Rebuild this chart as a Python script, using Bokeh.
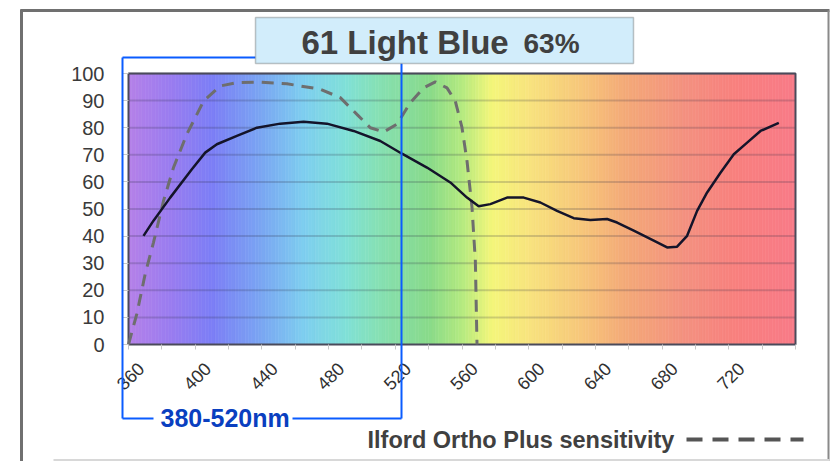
import math
from bokeh.plotting import figure
from bokeh.models import (Range1d, LinearAxis, FixedTicker, Label, Arrow,
                          BoxAnnotation, ColumnDataSource)
from bokeh.embed import file_html
from bokeh.resources import INLINE

# ---------------- data ----------------
wl_filter = [369, 375, 385, 398, 406, 413, 425, 437, 451, 465, 479, 495, 511,
             524, 539, 553, 563, 570, 577, 587, 597, 607, 617, 627, 637, 647,
             653, 663, 675, 683, 689, 695, 701, 707, 715, 723, 731, 739, 750]
tr_filter = [40.1, 45.7, 54.2, 64.7, 70.8, 73.9, 77.0, 80.0, 81.5, 82.2, 81.5,
             78.8, 75.1, 70.4, 65.3, 59.8, 54.2, 51.0, 51.8, 54.2, 54.2, 52.4,
             49.3, 46.6, 45.9, 46.3, 45.0, 42.0, 38.3, 35.8, 36.1, 40.1, 49.3,
             56.1, 63.4, 70.2, 74.5, 78.8, 81.8]

wl_film = [360, 365, 370, 375, 381, 387, 395, 405, 415, 425, 439, 455, 475,
           487, 497, 505, 513, 521, 529, 537, 544, 551, 556, 560, 563, 566,
           568, 569]
se_film = [0.0, 11.3, 26.0, 37.7, 53.0, 65.3, 77.6, 89.8, 95.4, 96.6, 96.8,
           96.2, 94.2, 91.1, 84.9, 80.0, 78.4, 81.3, 89.2, 94.7, 96.9, 94.7,
           89.8, 80.0, 67.7, 50.6, 30.9, 0.0]

x_tick_labels = [360, 400, 440, 480, 520, 560, 600, 640, 680, 720]
x_minor_ticks = [360, 380, 400, 420, 440, 460, 480, 500, 520, 540, 560, 580,
                 600, 620, 640, 660, 680, 700, 720, 740, 760]
y_ticks = [0, 10, 20, 30, 40, 50, 60, 70, 80, 90, 100]

title_main = "61 Light Blue"
title_pct = "63%"
band_label = "380-520nm"
legend_label = "Ilford Ortho Plus sensitivity"

# background spectrum colour stops (wavelength, colour)
spec_wl = [360, 385, 410, 440, 465, 490, 510, 540, 560, 578, 600, 630, 660, 695, 725, 760]
spec_col = ["#b580e8", "#9a7cf0", "#7c7ef6", "#7aa6f2", "#7ecef0", "#80e0d8",
            "#86e0b4", "#88da8a", "#b4ea80", "#f4f67a", "#f8e47e", "#f7c87a",
            "#f4a878", "#f49080", "#f8807e", "#f87a88"]

# ---------------- layout ----------------
W, H = 835, 461
X0, X1 = 360, 760
FL, FT, FW, FH = 128, 73, 667, 271      # plot area position on page (px)
KX = FW / (X1 - X0)
KY = FH / 100.0


def X(px):
    return X0 + (px - FL) / KX


def Y(py):
    return (FT + FH - py) / KY


p = figure(width=W, height=H, x_range=Range1d(X(0), X(W)), y_range=Range1d(Y(H), Y(0)),
           output_backend="svg", toolbar_location=None, title=None,
           min_border=0, border_fill_color="white", background_fill_color="white")
p.outline_line_color = None
p.xgrid.visible = False
p.ygrid.visible = False

# spectrum background
def hex2rgb(h):
    return tuple(int(h[i:i + 2], 16) for i in (1, 3, 5))


lefts, rights, cols = [], [], []
step = 2
w = X0
while w < X1:
    c = w + step / 2
    for i in range(len(spec_wl) - 1):
        if spec_wl[i] <= c <= spec_wl[i + 1]:
            t = (c - spec_wl[i]) / (spec_wl[i + 1] - spec_wl[i])
            a, b = hex2rgb(spec_col[i]), hex2rgb(spec_col[i + 1])
            rgb = tuple(round(a[k] + (b[k] - a[k]) * t) for k in range(3))
            cols.append("#%02x%02x%02x" % rgb)
            break
    lefts.append(w)
    rights.append(min(w + step, X1))
    w += step
src_bg = ColumnDataSource(dict(left=lefts, right=rights, color=cols))
p.quad(left="left", right="right", bottom=0, top=100, source=src_bg,
       fill_color="color", line_color="color", line_width=0.6)

# horizontal grid lines
p.segment(x0=X0, x1=X1, y0=y_ticks[1:], y1=y_ticks[1:], line_color="#2a2a40",
          line_alpha=0.2, line_width=2)

# plot-area border
p.quad(left=X0, right=X1, bottom=0, top=100, fill_color=None,
       line_color="#4a4a5a", line_width=2)

# curves
p.line(wl_film, se_film, line_color="#6e6e6e", line_width=3, line_dash="12 8")
p.line(wl_filter, tr_filter, line_color="#14142a", line_width=2.5)

# y axis (fixed at the left edge of the plot area)
p.yaxis.fixed_location = X0
p.yaxis.bounds = (0, 100)
p.yaxis.ticker = FixedTicker(ticks=y_ticks)
p.yaxis.axis_line_color = None
p.yaxis.major_tick_out = 6
p.yaxis.major_tick_in = 0
p.yaxis.major_tick_line_color = "#c8c8c8"
p.yaxis.minor_tick_line_color = None
p.yaxis.major_label_standoff = 18
p.yaxis.major_label_text_font = "Liberation Sans"
p.yaxis.major_label_text_font_size = "20px"
p.yaxis.major_label_text_color = "#3a3a3a"

# x axis: tick marks only
p.xaxis.fixed_location = 0
p.xaxis.bounds = (X0, X1)
p.xaxis.ticker = FixedTicker(ticks=x_minor_ticks)
p.xaxis.axis_line_color = None
p.xaxis.major_tick_out = 5
p.xaxis.major_tick_in = 0
p.xaxis.major_tick_line_color = "#c8c8c8"
p.xaxis.minor_tick_line_color = None
p.xaxis.major_label_text_font_size = "1px"
p.xaxis.major_label_text_alpha = 0

# x axis labels (offset like the original chart)
shift = 7.5
p.extra_x_ranges = {"lab": Range1d(X(0) - shift, X(W) - shift)}
lab_axis = LinearAxis(x_range_name="lab", fixed_location=0,
                      ticker=FixedTicker(ticks=x_tick_labels),
                      axis_line_color=None, major_tick_line_color=None,
                      minor_tick_line_color=None, major_tick_out=0, major_tick_in=0,
                      major_label_orientation=math.pi / 4, major_label_standoff=21,
                      major_label_text_font="Liberation Sans",
                      major_label_text_font_size="18px",
                      major_label_text_color="#303030")
p.add_layout(lab_axis, "below")


def seg(x0, y0, x1, y1, color, width, dash="solid"):
    p.add_layout(Arrow(x_start=X(x0), y_start=Y(y0), x_end=X(x1), y_end=Y(y1),
                       start=None, end=None, line_color=color, line_width=width,
                       line_dash=dash))


def text(px, py_base, s, size, color):
    # py_base: wanted baseline on the page; labels render ~0.31 em lower
    p.add_layout(Label(x=X(px), y=Y(py_base - 0.31 * size), text=s,
                       text_font="Liberation Sans", text_font_style="bold",
                       text_font_size="%gpx" % size, text_color=color,
                       text_baseline="alphabetic", text_align="left"))


# outer border
seg(21, 9, 21, 461, "#707070", 3)
seg(20, 10, 829, 10, "#707070", 3)
seg(828, 10, 828, 461, "#8a8a8a", 2)
seg(53, 459.5, 829, 459.5, "#d8d8d8", 2)

# blue bracket
BLUE = "#0a5cff"
seg(122, 57, 255, 57, BLUE, 2)
seg(122, 57, 122, 418, BLUE, 2)
seg(122, 418, 153, 418, BLUE, 2)
seg(292, 418, 401, 418, BLUE, 2)
seg(401, 63, 401, 418, BLUE, 2)

# title box
p.add_layout(BoxAnnotation(left=X(255), right=X(633), top=Y(17), bottom=Y(63),
                           fill_color="#d2edfb", fill_alpha=1, line_color="#404040",
                           line_width=1.5, level="annotation"))
text(301, 52, title_main, 33, "#404040")
text(523, 52, title_pct, 28, "#404040")

# band label
text(160, 425, band_label, 25, "#0a3fc0")

# legend
text(367, 447, legend_label, 23.5, "#404040")
seg(686, 439, 803, 439, "#555555", 4, "16 10")

open("out.html", "w").write(file_html(p, INLINE))
